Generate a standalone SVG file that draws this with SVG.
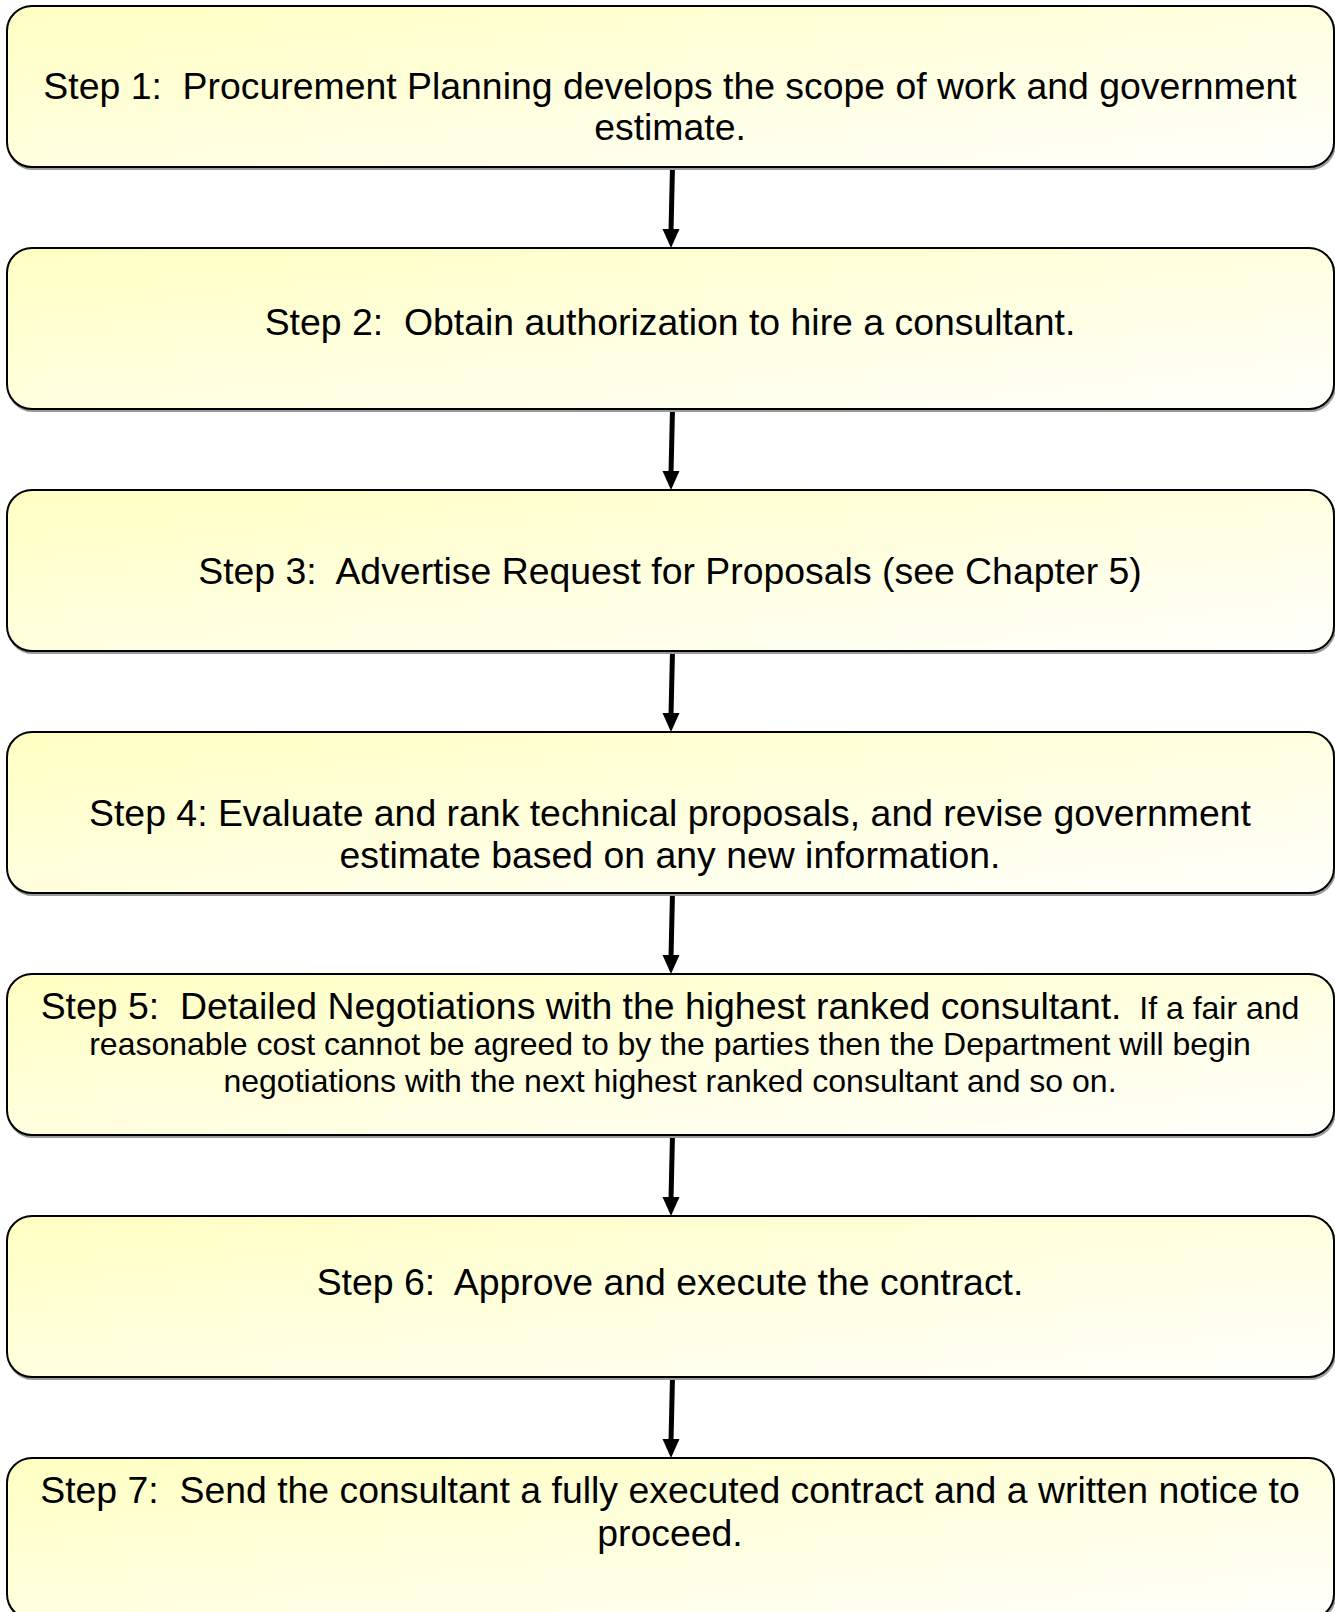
<svg xmlns="http://www.w3.org/2000/svg" width="1335" height="1612" viewBox="0 0 1335 1612">
  <defs>
    <linearGradient id="boxFill" x1="0" y1="0" x2="1" y2="1">
      <stop offset="0" stop-color="#FFFFC2"/>
      <stop offset="1" stop-color="#FFFFFC"/>
    </linearGradient>
  </defs>
  <style>
    .box { fill: url(#boxFill); stroke: #000; stroke-width: 2; }
    .shadow { fill: none; stroke: #9a9a9a; stroke-width: 2; }
    text { font-family: "Liberation Sans", Arial, sans-serif; fill: #000; text-anchor: middle; white-space: pre; }
    .big { font-size: 37.4px; }
    .small { font-size: 32px; }
    .shaft { stroke: #000; stroke-width: 5; fill: none; }
    .head { fill: #000; }
  </style>
  <rect width="1335" height="1612" fill="#fff"/>

  <!-- connectors -->
  <g id="connectors">
    <line class="shaft" x1="672.5" y1="167" x2="671" y2="231"/>
    <polygon class="head" points="662.5,229 679.5,229 671,248"/>
    <line class="shaft" x1="672.5" y1="409" x2="671" y2="473"/>
    <polygon class="head" points="662.5,471 679.5,471 671,490"/>
    <line class="shaft" x1="672.5" y1="651" x2="671" y2="715"/>
    <polygon class="head" points="662.5,713 679.5,713 671,732"/>
    <line class="shaft" x1="672.5" y1="893" x2="671" y2="957"/>
    <polygon class="head" points="662.5,955 679.5,955 671,974"/>
    <line class="shaft" x1="672.5" y1="1135" x2="671" y2="1199"/>
    <polygon class="head" points="662.5,1197 679.5,1197 671,1216"/>
    <line class="shaft" x1="672.5" y1="1377" x2="671" y2="1441"/>
    <polygon class="head" points="662.5,1439 679.5,1439 671,1458"/>
  </g>

  <g id="step1">
    <rect class="shadow" x="8" y="8" width="1327" height="161" rx="25"/>
    <rect class="box" x="7" y="6" width="1327" height="161" rx="25"/>
    <text class="big" x="670" y="99">Step 1:  Procurement Planning develops the scope of work and government</text>
    <text class="big" x="670" y="140">estimate.</text>
  </g>

  <g id="step2">
    <rect class="shadow" x="8" y="250" width="1327" height="161" rx="25"/>
    <rect class="box" x="7" y="248" width="1327" height="161" rx="25"/>
    <text class="big" x="670" y="335">Step 2:  Obtain authorization to hire a consultant.</text>
  </g>

  <g id="step3">
    <rect class="shadow" x="8" y="492" width="1327" height="161" rx="25"/>
    <rect class="box" x="7" y="490" width="1327" height="161" rx="25"/>
    <text class="big" x="670" y="584">Step 3:  Advertise Request for Proposals (see Chapter 5)</text>
  </g>

  <g id="step4">
    <rect class="shadow" x="8" y="734" width="1327" height="161" rx="25"/>
    <rect class="box" x="7" y="732" width="1327" height="161" rx="25"/>
    <text class="big" x="670" y="826">Step 4: Evaluate and rank technical proposals, and revise government</text>
    <text class="big" x="670" y="868">estimate based on any new information.</text>
  </g>

  <g id="step5">
    <rect class="shadow" x="8" y="976" width="1327" height="161" rx="25"/>
    <rect class="box" x="7" y="974" width="1327" height="161" rx="25"/>
    <text class="big" x="670" y="1019">Step 5:  Detailed Negotiations with the highest ranked consultant.<tspan class="small">  If a fair and</tspan></text>
    <text class="small" x="670" y="1055">reasonable cost cannot be agreed to by the parties then the Department will begin</text>
    <text class="small" x="670" y="1092">negotiations with the next highest ranked consultant and so on.</text>
  </g>

  <g id="step6">
    <rect class="shadow" x="8" y="1218" width="1327" height="161" rx="25"/>
    <rect class="box" x="7" y="1216" width="1327" height="161" rx="25"/>
    <text class="big" x="670" y="1295">Step 6:  Approve and execute the contract.</text>
  </g>

  <g id="step7">
    <rect class="shadow" x="8" y="1460" width="1327" height="161" rx="25"/>
    <rect class="box" x="7" y="1458" width="1327" height="161" rx="25"/>
    <text class="big" x="670" y="1503">Step 7:  Send the consultant a fully executed contract and a written notice to</text>
    <text class="big" x="670" y="1546">proceed.</text>
  </g>
</svg>
